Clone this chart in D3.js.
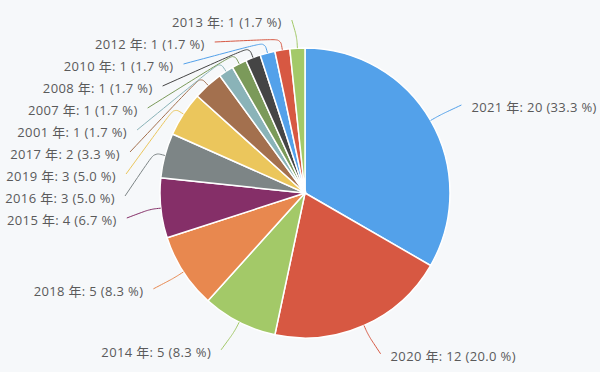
<!DOCTYPE html>
<meta charset="utf-8">
<script src="https://d3js.org/d3.v7.min.js"></script>
<style>
  body { margin: 0; background: #f6f8fa; }
  svg { display: block; }
</style>
<body>
<script>
// Data: year and number of items, in slice order (clockwise from 12 o'clock)
var years = ["2021", "2020", "2014", "2018", "2015", "2016", "2019", "2017", "2001", "2007", "2008", "2010", "2012", "2013"];
var counts = [20, 12, 5, 5, 4, 3, 3, 2, 1, 1, 1, 1, 1, 1];

var palette = ["#53a1ea", "#d75842", "#a3c968", "#e8884f", "#852f68", "#7d8586",
               "#ebc65c", "#a3704e", "#8ab3b8", "#7b9a5a", "#454545", "#53a1ea", "#d75842", "#a3c968"];

var width = 600, height = 372;
var cx = 305, cy = 193, radius = 145;
var lineLen = 11,      // radial part of the leader line
    labelRadius = 176, // where labels would sit without crowding
    lineTail = 4,
    textGap = 10,
    labelSpacing = 22,
    labelTop = 20;

var svg = d3.select("body").append("svg")
    .attr("width", width)
    .attr("height", height);

svg.append("rect")
    .attr("width", width)
    .attr("height", height)
    .attr("fill", "#f6f8fa");

var total = d3.sum(counts);
var data = years.map(function(y, i) { return {year: y, count: counts[i], color: palette[i]}; });

var pie = d3.pie().sort(null).value(function(d) { return d.count; });
var arcs = pie(data);

var arc = d3.arc().innerRadius(0).outerRadius(radius);

var g = svg.append("g").attr("transform", "translate(" + cx + "," + cy + ")");

g.selectAll("path.slice")
    .data(arcs)
    .enter()
    .append("path")
    .attr("class", "slice")
    .attr("d", arc)
    .attr("fill", function(d) { return d.data.color; })
    .attr("stroke", "#ffffff")
    .attr("stroke-width", 1.5);

// --- label layout (outside labels, stacked per side) ---
var labels = arcs.map(function(d) {
    var a = (d.startAngle + d.endAngle) / 2;
    var sx = Math.sin(a), sy = -Math.cos(a);
    return {
        d: d,
        dir: sx < 0 ? -1 : 1,
        e: [cx + radius * sx, cy + radius * sy],
        p1: [cx + (radius + lineLen) * sx, cy + (radius + lineLen) * sy],
        x0: labelRadius * sx,
        y: cy + labelRadius * sy
    };
});

[-1, 1].forEach(function(dir) {
    var side = labels.filter(function(l) { return l.dir === dir; })
        .sort(function(a, b) { return a.y - b.y; });
    // push labels down so they don't overlap
    var prev = -Infinity;
    side.forEach(function(l) {
        l.y = Math.max(l.y, labelTop, prev + labelSpacing);
        prev = l.y;
    });
    // re-align x on an ellipse, separately for the upper and lower halves
    [side.filter(function(l) { return l.y < cy; }), side.filter(function(l) { return l.y >= cy; })]
        .forEach(function(semi) {
            if (!semi.length) return;
            var far = semi.reduce(function(m, l) { return Math.abs(l.y - cy) > Math.abs(m.y - cy) ? l : m; });
            var dyF = Math.abs(far.y - cy);
            var rB = Math.abs(far.x0) < labelRadius ?
                Math.sqrt(dyF * dyF / (1 - far.x0 * far.x0 / (labelRadius * labelRadius))) : labelRadius;
            rB = Math.max(rB, dyF);
            semi.forEach(function(l) {
                var dy = Math.abs(l.y - cy);
                var dx = labelRadius * Math.sqrt(Math.max(0, 1 - dy * dy / (rB * rB)));
                l.x = cx + dir * (dx + lineTail);
            });
        });
});

function leader(l) {
    var p0 = l.e, p1 = l.p1, p2 = [l.x, l.y];
    var len1 = Math.hypot(p1[0] - p0[0], p1[1] - p0[1]);
    var len2 = Math.hypot(p2[0] - p1[0], p2[1] - p1[1]);
    var path = d3.path();
    path.moveTo(p0[0], p0[1]);
    var move = Math.min(len1, len2) * 0.35;
    var m0 = [p1[0] + (p0[0] - p1[0]) * move / len1, p1[1] + (p0[1] - p1[1]) * move / len1];
    var m2 = [p1[0] + (p2[0] - p1[0]) * move / len2, p1[1] + (p2[1] - p1[1]) * move / len2];
    var m1 = [(m0[0] + m2[0]) / 2, (m0[1] + m2[1]) / 2];
    path.bezierCurveTo(m0[0], m0[1], m0[0], m0[1], m1[0], m1[1]);
    path.bezierCurveTo(m2[0], m2[1], m2[0], m2[1], p2[0], p2[1]);
    return path.toString();
}

svg.selectAll("path.leader")
    .data(labels)
    .enter()
    .append("path")
    .attr("class", "leader")
    .attr("d", leader)
    .attr("fill", "none")
    .attr("stroke", function(l) { return l.d.data.color; })
    .attr("stroke-width", 1);

svg.selectAll("text.label")
    .data(labels)
    .enter()
    .append("text")
    .attr("class", "label")
    .attr("x", function(l) { return l.x + l.dir * textGap; })
    .attr("y", function(l) { return l.y + 2; })
    .attr("text-anchor", function(l) { return l.dir < 0 ? "end" : "start"; })
    .attr("dominant-baseline", "central")
    .attr("font-family", "'Open Sans', 'Noto Sans CJK JP', sans-serif")
    .attr("font-size", "13px")
    .attr("letter-spacing", "0.35px")
    .attr("fill", "#5a5a5a")
    .text(function(l) {
        var d = l.d.data;
        return d.year + " 年: " + d.count + " (" + (d.count / total * 100).toFixed(1) + " %)";
    });
</script>
</body>
</html>
